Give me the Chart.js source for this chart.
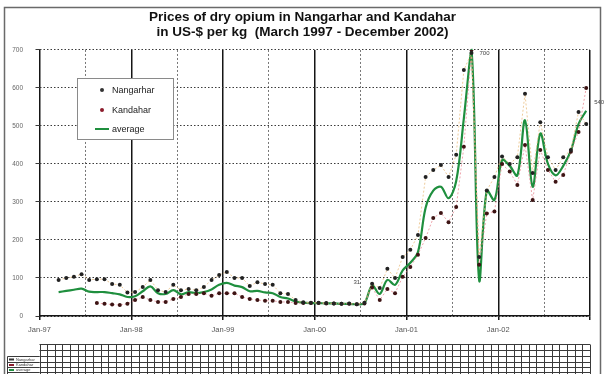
<!DOCTYPE html>
<html>
<head>
<meta charset="utf-8">
<script src="https://cdn.jsdelivr.net/npm/chart.js@4.4.1/dist/chart.umd.min.js"></script>
<style>
  html, body { margin: 0; padding: 0; background: #fff; }
</style>
</head>
<body>
<canvas id="myChart" width="605" height="374"></canvas>
<script>
"use strict";

// ---- data (US$ per kg) ----
const months = [
  "Mar-97", "Apr-97", "May-97", "Jun-97", "Jul-97", "Aug-97", "Sep-97", "Oct-97", "Nov-97", "Dec-97",
  "Jan-98", "Feb-98", "Mar-98", "Apr-98", "May-98", "Jun-98", "Jul-98", "Aug-98", "Sep-98", "Oct-98", "Nov-98", "Dec-98",
  "Jan-99", "Feb-99", "Mar-99", "Apr-99", "May-99", "Jun-99", "Jul-99", "Aug-99", "Sep-99", "Oct-99", "Nov-99", "Dec-99",
  "Jan-00", "Feb-00", "Mar-00", "Apr-00", "May-00", "Jun-00", "Jul-00", "Aug-00", "Sep-00", "Oct-00", "Nov-00", "Dec-00",
  "Jan-01", "Feb-01", "Mar-01", "Apr-01", "May-01", "Jun-01", "Jul-01", "Aug-01", "Sep-01", "Oct-01", "Nov-01", "Dec-01",
  "Jan-02", "Feb-02", "Mar-02", "Apr-02", "May-02", "Jun-02", "Jul-02", "Aug-02", "Sep-02", "Oct-02", "Nov-02", "Dec-02",
];

const nangarhar = [
  95, 100, 103, 110, 95, 97, 97, 84, 82, 62,
  63, 76, 95, 68, 63, 82, 68, 71, 68, 76, 95, 108,
  116, 100, 100, 79, 89, 84, 82, 60, 58, 42, 36, 35,
  35, 34, 33, 32, 33, 31, 35, 85, 74, 124, 100, 155,
  174, 213, 366, 384, 397, 366, 424, 647, 692, 155, 330, 366,
  420, 400, 418, 585, 376, 510, 418, 384, 418, 437, 537, 505,
];

const kandahar = [
  null, null, null, null, null, 34, 32, 30, 29, 32,
  42, 50, 42, 37, 37, 45, 50, 58, 58, 60, 53, 60,
  60, 60, 50, 45, 42, 40, 40, 37, 37, 34, 34, 34,
  34, 33, 33, 32, 32, 31, 33, 75, 42, 71, 60, 103,
  129, 161, 205, 258, 271, 247, 287, 445, 700, 135, 270, 275,
  400, 380, 345, 450, 305, 437, 384, 353, 371, 432, 484, 600,
];

const average = [
  63, 66, 69, 72, 64, 63, 63, 60, 57, 50,
  52, 65, 78, 60, 58, 68, 57, 63, 60, 63, 70, 82,
  87, 80, 76, 65, 66, 62, 60, 50, 46, 38, 35, 34,
  34, 33, 33, 32, 32, 31, 34, 80, 58, 95, 82, 120,
  140, 168, 285, 330, 340, 310, 355, 520, 700, 95, 330, 305,
  410, 395, 370, 515, 340, 480, 400, 370, 395, 435, 505, 540,
];

const yTicks = [0, 100, 200, 300, 400, 500, 600, 700];
const yearLabels = ["Jan-97", "Jan-98", "Jan-99", "Jan-00", "Jan-01", "Jan-02", ""];
const seriesNames = ["Nangarhar", "Kandahar", "average"];
const titleLines = [
  "Prices of dry opium in Nangarhar and Kandahar",
  "in US-$ per kg  (March 1997 - December 2002)",
];
// values written next to some points of the average line
const notedMonths = ["Jun-00", "Sep-01", "Dec-02"];

// ---- helpers ----
const monthNames = ["Jan", "Feb", "Mar", "Apr", "May", "Jun", "Jul", "Aug", "Sep", "Oct", "Nov", "Dec"];
const FONT = "'Liberation Sans', Arial, sans-serif";

// months since Jan-97, points sit in the middle of their month
function monthPos(label) {
  const parts = label.split("-");
  const yy = Number(parts[1]);
  const year = yy < 50 ? 2000 + yy : 1900 + yy;
  return (year - 1997) * 12 + monthNames.indexOf(parts[0]) + 0.5;
}

function toPoints(values) {
  return values.map((v, i) => ({ x: monthPos(months[i]), y: v }));
}

const yearTicks = yearLabels.map((_, i) => i * 12);
const midTicks = yearLabels.slice(0, -1).map((_, i) => i * 12 + 6);

// ---- plugins ----
const background = {
  id: "background",
  beforeDraw(chart) {
    const ctx = chart.ctx;
    ctx.save();
    ctx.fillStyle = "#fff";
    ctx.fillRect(0, 0, chart.width, chart.height);
    ctx.restore();
  },
};

const extras = {
  id: "extras",
  afterDatasetsDraw(chart) {
    const ctx = chart.ctx;
    const xs = chart.scales.x;
    const ys = chart.scales.y;

    // notes on the average line
    ctx.save();
    ctx.font = "6px " + FONT;
    ctx.fillStyle = "#444";
    ctx.textBaseline = "middle";
    const noteOffsets = [[0, -22, "center"], [8, 3, "left"], [8, -8, "left"]];
    notedMonths.forEach((m, k) => {
      const i = months.indexOf(m);
      const px = xs.getPixelForValue(monthPos(m));
      const py = ys.getPixelForValue(average[i]);
      ctx.textAlign = noteOffsets[k][2];
      ctx.fillText(String(average[i]), px + noteOffsets[k][0], py + noteOffsets[k][1]);
    });
    ctx.restore();

    // legend box
    const ds = chart.data.datasets;
    ctx.save();
    ctx.fillStyle = "#fff";
    ctx.fillRect(77.5, 78.5, 96, 61);
    ctx.strokeStyle = "#8a8a8a";
    ctx.lineWidth = 1;
    ctx.strokeRect(77.5, 78.5, 96, 61);
    ctx.font = "9px " + FONT;
    ctx.textBaseline = "middle";
    ctx.textAlign = "left";
    const rowsY = [90, 110, 129];
    ds.forEach((d, i) => {
      const y = rowsY[i];
      if (d.pointRadius > 0) {
        ctx.beginPath();
        ctx.arc(102, y, 2, 0, Math.PI * 2);
        ctx.fillStyle = d.legendDot;
        ctx.fill();
      } else {
        ctx.beginPath();
        ctx.moveTo(95, y);
        ctx.lineTo(109, y);
        ctx.strokeStyle = d.borderColor;
        ctx.lineWidth = 2;
        ctx.stroke();
      }
      ctx.fillStyle = "#222";
      ctx.fillText(d.label, 112, y + 0.5);
    });
    ctx.restore();
  },
  afterDraw(chart) {
    const ctx = chart.ctx;
    const xs = chart.scales.x;
    ctx.save();

    // data table under the axis: one column per month
    const rowY = [344.5, 350.5, 356.5, 362.5, 367.5, 372.5];
    ctx.strokeStyle = "#3a3a3a";
    ctx.lineWidth = 1;
    ctx.beginPath();
    for (let m = 0; m <= 72; m++) {
      const x = Math.round(xs.getPixelForValue(m)) + 0.5;
      ctx.moveTo(x, rowY[0]);
      ctx.lineTo(x, 374);
    }
    rowY.forEach((y) => {
      ctx.moveTo(xs.getPixelForValue(0), y);
      ctx.lineTo(xs.getPixelForValue(72), y);
    });
    // row headers
    ctx.moveTo(7.5, rowY[2]);
    ctx.lineTo(7.5, 374);
    for (let r = 2; r < rowY.length; r++) {
      ctx.moveTo(7.5, rowY[r]);
      ctx.lineTo(xs.getPixelForValue(0), rowY[r]);
    }
    ctx.stroke();

    ctx.font = "4px " + FONT;
    ctx.textBaseline = "middle";
    ctx.fillStyle = "#333";
    seriesNames.forEach((name, i) => {
      const yc = (rowY[i + 2] + rowY[i + 3]) / 2;
      ctx.fillText(name, 16, yc);
      const d = chart.data.datasets[i];
      ctx.fillStyle = d.pointRadius > 0 ? d.legendDot : d.borderColor;
      ctx.fillRect(9, yc - 1, 5, 2);
      ctx.fillStyle = "#333";
    });

    // outer frame
    ctx.strokeStyle = "#6a6a6a";
    ctx.lineWidth = 1.5;
    ctx.strokeRect(4.5, 7.5, 596, 380);
    ctx.restore();
  },
};

// ---- chart ----
const ctx = document.getElementById("myChart");
const myChart = new Chart(ctx, {
  type: "line",
  data: {
    datasets: [
      {
        label: seriesNames[0],
        data: toPoints(nangarhar),
        borderColor: "rgba(232, 186, 120, 0.75)",
        borderWidth: 1,
        borderDash: [2, 2],
        pointRadius: 2,
        pointBackgroundColor: "#222",
        pointBorderColor: "#222",
        pointBorderWidth: 0,
        legendDot: "#333",
        tension: 0,
        spanGaps: true,
        order: 1,
      },
      {
        label: seriesNames[1],
        data: toPoints(kandahar),
        borderColor: "rgba(232, 135, 145, 0.75)",
        borderWidth: 1,
        borderDash: [2, 2],
        pointRadius: 2,
        pointBackgroundColor: "#3d1414",
        pointBorderColor: "#3d1414",
        pointBorderWidth: 0,
        legendDot: "#8c1c2c",
        tension: 0,
        spanGaps: true,
        order: 1,
      },
      {
        label: seriesNames[2],
        data: toPoints(average),
        borderColor: "#1f8f3e",
        borderWidth: 2.2,
        pointRadius: 0,
        tension: 0.35,
        clip: 4,
        order: 2,
      },
    ],
  },
  options: {
    responsive: false,
    devicePixelRatio: 1,
    animation: false,
    layout: { padding: { top: 0, right: 0, bottom: 0, left: 0 } },
    plugins: {
      legend: { display: false },
      tooltip: { enabled: false },
      title: {
        display: true,
        text: titleLines,
        color: "#111",
        font: { size: 13.5, weight: "bold", family: FONT, lineHeight: 1.08 },
        padding: { top: 10, bottom: 10.8 },
      },
    },
    scales: {
      x: {
        type: "linear",
        position: "bottom",
        min: 0,
        max: 72,
        afterBuildTicks: (s) => {
          s.ticks = yearTicks.map((v) => ({ value: v }));
        },
        ticks: {
          autoSkip: false,
          maxRotation: 0,
          padding: 5,
          color: "#555",
          font: { size: 7.5, family: FONT },
          callback: (v) => yearLabels[v / 12],
        },
        grid: { color: "#151515", lineWidth: 1.5, tickLength: 4 },
        border: { color: "#151515", width: 1.5 },
        afterFit: (s) => {
          s.height = 58;
        },
      },
      mid: {
        type: "linear",
        position: "bottom",
        min: 0,
        max: 72,
        afterBuildTicks: (s) => {
          s.ticks = midTicks.map((v) => ({ value: v }));
        },
        ticks: { display: false },
        grid: { color: "#777", lineWidth: 1, drawTicks: false },
        border: { display: false, dash: [2, 2] },
        afterFit: (s) => {
          s.height = 0;
        },
      },
      y: {
        min: 0,
        max: 700,
        afterBuildTicks: (s) => {
          s.ticks = yTicks.map((v) => ({ value: v }));
        },
        ticks: {
          padding: 12.5,
          color: "#666",
          font: { size: 6.5, family: FONT },
        },
        grid: { color: "#3a3a3a", lineWidth: 1, tickLength: 4 },
        border: { display: false, dash: [1.5, 2] },
        afterFit: (s) => {
          s.width = 39.5;
        },
      },
      pad: {
        type: "linear",
        position: "right",
        ticks: { display: false },
        grid: { display: false, drawTicks: false },
        border: { display: false },
        afterFit: (s) => {
          s.width = 15;
        },
      },
    },
  },
  plugins: [background, extras],
});
</script>
</body>
</html>
